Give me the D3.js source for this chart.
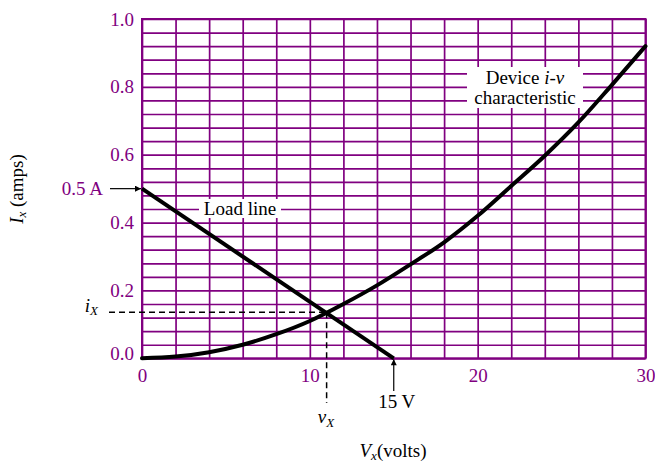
<!DOCTYPE html>
<html>
<head>
<meta charset="utf-8">
<script src="https://cdn.jsdelivr.net/npm/d3@7"></script>
<style>
  html, body { margin: 0; padding: 0; background: #fff; }
  svg { display: block; }
  text { font-family: "Liberation Serif", "Times New Roman", serif; }
</style>
</head>
<body>
<script>
// ---- data ----
const xLabelTicks = [0, 10, 20, 30];
const yLabelTicks = [0.0, 0.2, 0.4, 0.6, 0.8, 1.0];
const xGridTicks = d3.range(0, 30.001, 2);
const yGridTicks = d3.range(0, 1.0001, 0.04);
// device i-v characteristic (V, I)
const deviceV = [0, 2, 4, 6, 8, 10, 12, 14, 16, 18, 20, 22, 24, 26, 28, 30];
const deviceI = [0, 0.005, 0.018, 0.040, 0.071, 0.110, 0.160, 0.215, 0.277, 0.342, 0.420, 0.508, 0.597, 0.695, 0.806, 0.92];
// load line endpoints (V, I)
const loadV = [0, 15];
const loadI = [0.5, 0];
// operating point
const opV = 11.0;
const opI = 0.136;

const W = 655, H = 464;
const purple = "#800080";
const svg = d3.select("body").append("svg").attr("width", W).attr("height", H);

const x = d3.scaleLinear().domain([0, 30]).range([142, 645.5]);
const y = d3.scaleLinear().domain([0, 1]).range([358.3, 19]);

// grid
const gx = svg.append("g").attr("transform", `translate(0,${y(0)})`)
  .call(d3.axisBottom(x).tickValues(xGridTicks).tickSize(-(y(0) - y(1))).tickFormat(""));
const gy = svg.append("g").attr("transform", `translate(${x(0)},0)`)
  .call(d3.axisLeft(y).tickValues(yGridTicks).tickSize(-(x(30) - x(0))).tickFormat(""));
[gx, gy].forEach(g => {
  g.select(".domain").remove();
  g.selectAll("line").attr("stroke", purple).attr("stroke-width", 1.7);
});
// border
svg.append("rect").attr("x", x(0)).attr("y", y(1))
  .attr("width", x(30) - x(0)).attr("height", y(0) - y(1))
  .attr("fill", "none").attr("stroke", purple).attr("stroke-width", 2);

const fs = "19px", fsSub = "13px";
// tick labels
const lx = svg.append("g").attr("transform", `translate(0,${y(0)})`)
  .call(d3.axisBottom(x).tickValues(xLabelTicks).tickSize(0).tickPadding(10).tickFormat(d3.format("d")));
const ly = svg.append("g").attr("transform", `translate(${x(0)},0)`)
  .call(d3.axisLeft(y).tickValues(yLabelTicks).tickSize(0).tickPadding(8).tickFormat(d3.format(".1f")));
[lx, ly].forEach(g => {
  g.select(".domain").remove();
  g.selectAll("text").attr("fill", purple).style("font-size", fs)
    .style("font-family", '"Liberation Serif", "Times New Roman", serif');
});
ly.selectAll(".tick").filter(d => d === 0).select("text").attr("dy", "0.05em");

// label backgrounds
function labelBox(cx, y0, w, h) {
  svg.append("rect").attr("x", cx - w / 2).attr("y", y0).attr("width", w).attr("height", h).attr("fill", "#fff");
}
labelBox(240, 199, 82, 19);
labelBox(525, 67, 116, 41);

// lines
const line = d3.line().x(d => x(d[0])).y(d => y(d[1]));
svg.append("path").datum(loadV.map((v, i) => [v, loadI[i]]))
  .attr("d", line).attr("fill", "none").attr("stroke", "#000").attr("stroke-width", 4);
svg.append("path").datum(deviceV.map((v, i) => [v, deviceI[i]]))
  .attr("d", line.curve(d3.curveMonotoneX)).attr("fill", "none")
  .attr("stroke", "#000").attr("stroke-width", 4).attr("stroke-linecap", "round");

// dashed guides
svg.append("line").attr("x1", 109).attr("x2", x(opV)).attr("y1", y(opI)).attr("y2", y(opI))
  .attr("stroke", "#000").attr("stroke-width", 1.5).attr("stroke-dasharray", "6,4");
svg.append("line").attr("x1", x(opV)).attr("x2", x(opV)).attr("y1", y(opI)).attr("y2", 403)
  .attr("stroke", "#000").attr("stroke-width", 1.5).attr("stroke-dasharray", "6,4");

// arrows
const defs = svg.append("defs");
defs.append("marker").attr("id", "ah").attr("viewBox", "0 0 10 10").attr("refX", 10).attr("refY", 5)
  .attr("markerWidth", 10).attr("markerHeight", 6).attr("markerUnits", "userSpaceOnUse").attr("orient", "auto")
  .append("path").attr("d", "M0,0 L10,5 L0,10 z").attr("fill", "#000");
svg.append("line").attr("x1", 110).attr("x2", x(0) - 1).attr("y1", y(0.5)).attr("y2", y(0.5))
  .attr("stroke", "#000").attr("stroke-width", 1.2).attr("marker-end", "url(#ah)");
svg.append("line").attr("x1", x(15)).attr("x2", x(15)).attr("y1", 391).attr("y2", y(0) + 1)
  .attr("stroke", "#000").attr("stroke-width", 1.2).attr("marker-end", "url(#ah)");

// text labels
svg.append("text").attr("x", 103).attr("y", 195).attr("text-anchor", "end")
  .attr("fill", purple).style("font-size", fs).text("0.5 A");
svg.append("text").attr("x", 240).attr("y", 215).attr("text-anchor", "middle")
  .style("font-size", fs).text("Load line");
const dl = svg.append("text").attr("x", 525).attr("y", 84).attr("text-anchor", "middle").style("font-size", fs);
dl.append("tspan").text("Device ");
dl.append("tspan").style("font-style", "italic").text("i");
dl.append("tspan").text("-");
dl.append("tspan").style("font-style", "italic").text("v");
svg.append("text").attr("x", 525).attr("y", 104).attr("text-anchor", "middle")
  .style("font-size", fs).text("characteristic");
svg.append("text").attr("x", x(15) + 3).attr("y", 408).attr("text-anchor", "middle")
  .style("font-size", fs).text("15 V");

// i_X
const ix = svg.append("text").attr("x", 98).attr("y", 312).attr("text-anchor", "end")
  .style("font-size", fs).style("font-style", "italic");
ix.append("tspan").text("i");
ix.append("tspan").attr("dy", 3).style("font-size", fsSub).text("X");
// v_X
const vx = svg.append("text").attr("x", 326).attr("y", 423).attr("text-anchor", "middle")
  .style("font-size", fs).style("font-style", "italic");
vx.append("tspan").text("v");
vx.append("tspan").attr("dy", 4).style("font-size", fsSub).text("X");

// axis titles
const xt = svg.append("text").attr("x", 393).attr("y", 457).attr("text-anchor", "middle").style("font-size", fs);
xt.append("tspan").style("font-style", "italic").text("V");
xt.append("tspan").attr("dy", 3).style("font-size", fsSub).style("font-style", "italic").text("x");
xt.append("tspan").attr("dy", -3).text("(volts)");

const yt = svg.append("text").attr("transform", "translate(23,189) rotate(-90)")
  .attr("text-anchor", "middle").style("font-size", fs);
yt.append("tspan").style("font-style", "italic").text("I");
yt.append("tspan").attr("dy", 3).style("font-size", fsSub).style("font-style", "italic").text("x");
yt.append("tspan").attr("dy", -3).text(" (amps)");
</script>
</body>
</html>
